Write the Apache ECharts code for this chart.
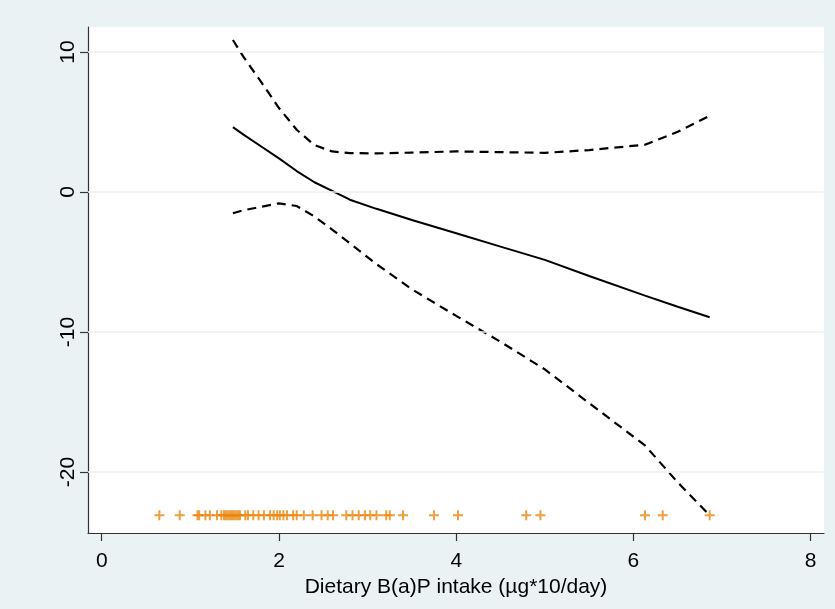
<!DOCTYPE html>
<html>
<head>
<meta charset="utf-8">
<script src="https://cdn.jsdelivr.net/npm/echarts@6/dist/echarts.min.js"></script>
<style>
html,body{margin:0;padding:0;background:#EAF2F3;}
#chart{width:835px;height:609px;}
</style>
</head>
<body>
<div id="chart"></div>
<script>
// Shared x grid for the fitted curve and its confidence bounds
var xGrid = [1.48, 1.6, 1.8, 2.0, 2.2, 2.4, 2.6, 2.8, 3.1, 3.5, 4.0, 4.5, 5.0, 5.5, 6.13, 6.5, 6.86];
var estimate = [4.64, 4.1, 3.25, 2.4, 1.5, 0.7, 0.08, -0.55, -1.2, -2.0, -2.95, -3.9, -4.85, -6.0, -7.4, -8.2, -8.95];
var upperCI = [10.86, 9.65, 7.85, 6.0, 4.45, 3.35, 2.9, 2.78, 2.76, 2.82, 2.9, 2.85, 2.8, 3.0, 3.38, 4.3, 5.45];
var lowerCI = [-1.52, -1.3, -1.05, -0.81, -1.0, -1.75, -2.68, -3.66, -5.15, -6.95, -8.85, -10.7, -12.67, -15.08, -18.1, -20.75, -23.1];

// Rug of observed intake values
var rugX = [0.65, 0.88, 1.08, 1.10, 1.17, 1.22, 1.30, 1.35, 1.38, 1.40, 1.42, 1.44, 1.46, 1.48, 1.50, 1.52, 1.54, 1.56,
            1.62, 1.65, 1.71, 1.77, 1.83, 1.90, 1.94, 1.98, 2.01, 2.05, 2.09, 2.16, 2.20, 2.28,
            2.38, 2.48, 2.55, 2.61, 2.76, 2.83, 2.90, 2.97, 3.03, 3.10, 3.21, 3.25, 3.40, 3.75, 4.02, 4.79, 4.95, 6.13, 6.33, 6.86];
var rugY = -23.1;

var xTicks = [0, 2, 4, 6, 8];
var yTicks = [-20, -10, 0, 10];
var xTitle = 'Dietary B(a)P intake (µg*10/day)';

var font = "'Liberation Sans', Arial, sans-serif";
function pairs(xs, ys){ return xs.map(function(x,i){ return [x, ys[i]]; }); }

var chart = echarts.init(document.getElementById('chart'), null, {renderer:'canvas'});
chart.setOption({
  backgroundColor: '#EAF2F3',
  animation: false,
  grid: {left: 88, top: 27, right: 11, bottom: 76, show: true, backgroundColor: '#ffffff', borderWidth: 0},
  xAxis: {
    type: 'value', min: -0.155, max: 8.15,
    name: xTitle, nameLocation: 'middle', nameGap: 36,
    nameTextStyle: {fontFamily: font, fontSize: 21, color: '#000'},
    axisLine: {show: true, onZero: false, lineStyle: {color: '#333', width: 1.2}},
    axisTick: {show: true, length: 8, customValues: xTicks, lineStyle: {color: '#333', width: 1.2}},
    axisLabel: {customValues: xTicks, margin: 18, fontFamily: font, fontSize: 21, color: '#000'},
    splitLine: {show: false}
  },
  yAxis: {
    type: 'value', min: -24.36, max: 11.79,
    axisLine: {show: true, onZero: false, lineStyle: {color: '#333', width: 1.2}},
    axisTick: {show: true, length: 8, customValues: yTicks, lineStyle: {color: '#333', width: 1.2}},
    axisLabel: {customValues: yTicks, rotate: 90, margin: 9, fontFamily: font, fontSize: 21, color: '#000'},
    splitLine: {show: false}
  },
  series: [
    {
      type: 'line', data: [], silent: true, z: 1,
      markLine: {
        silent: true, symbol: ['none','none'], label: {show: false},
        lineStyle: {color: '#EAF2F3', width: 1.5, type: 'solid'},
        data: yTicks.map(function(v){ return {yAxis: v}; })
      }
    },
    {type: 'line', data: pairs(xGrid, upperCI), showSymbol: false, smooth: false, z: 3,
     lineStyle: {color: '#000', width: 2.2, type: [9, 6]}},
    {type: 'line', data: pairs(xGrid, lowerCI), showSymbol: false, smooth: false, z: 3,
     lineStyle: {color: '#000', width: 2.2, type: [9, 6]}},
    {type: 'line', data: pairs(xGrid, estimate), showSymbol: false, smooth: false, z: 3,
     lineStyle: {color: '#000', width: 2, type: 'solid'}},
    {type: 'scatter', data: rugX.map(function(x){ return [x, rugY]; }), z: 4,
     symbol: 'path://M4,0h2v4h4v2h-4v4h-2v-4h-4v-2h4z', symbolSize: 10,
     itemStyle: {color: '#E8870E'}}
  ]
});
</script>
</body>
</html>
